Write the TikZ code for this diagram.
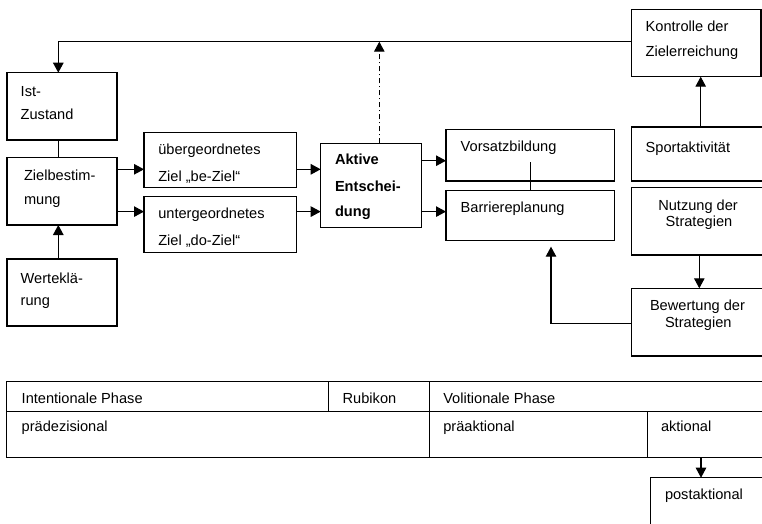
\documentclass[tikz,border=0pt]{standalone}
\usepackage{fontspec}
\setmainfont{Liberation Sans}
\usetikzlibrary{arrows.meta}
\begin{document}
\begin{tikzpicture}[x=1pt,y=-1pt,
  box/.style={draw, line width=1.1pt, inner sep=0pt, outer sep=0pt, anchor=north west},
  txt/.style={inner sep=0pt, outer sep=0pt, anchor=base west, font=\fontsize{14.6}{17}\selectfont},
  btxt/.style={txt, font=\fontsize{14.6}{17}\selectfont\bfseries},
  arr/.style={-{Triangle[length=10pt,width=10.5pt]}, line width=1.1pt},
  plain/.style={line width=1.1pt}]
\clip (0,0) rectangle (762,524);
\fill[white] (0,0) rectangle (762,524);

% boxes of the process model
\node[box, minimum width=110, minimum height=67.3] (ist) at (7,72.7) {};
\node[box, minimum width=110, minimum height=67.7] (ziel) at (7,157.3) {};
\node[box, minimum width=110, minimum height=67] (wert) at (7,259) {};
\node[box, minimum width=152.7, minimum height=55] (ueber) at (144,132.3) {};
\node[box, minimum width=152.7, minimum height=56] (unter) at (144,196.7) {};
\node[box, minimum width=101, minimum height=84] (akt) at (320.7,143.3) {};
\node[box, minimum width=168.3, minimum height=51.7] (vors) at (446,129.3) {};
\node[box, minimum width=168.3, minimum height=50] (barr) at (446,190.7) {};
\node[box, minimum width=129.3, minimum height=67.4] (kon) at (631.7,9.3) {};
\node[box, minimum width=140, minimum height=54] (sport) at (631.7,127) {};
\node[box, minimum width=140, minimum height=67.7] (nutz) at (631.7,187.3) {};
\node[box, minimum width=140, minimum height=67.7] (bew) at (631.7,288.3) {};

% phase table
\node[box, minimum width=321.6, minimum height=30] (intent) at (6.7,381.7) {};
\node[box, minimum width=101, minimum height=30] (rubikon) at (328.3,381.7) {};
\node[box, minimum width=350, minimum height=30] (volit) at (429.3,381.7) {};
\node[box, minimum width=422.6, minimum height=45.6] (praedez) at (6.7,411.7) {};
\node[box, minimum width=218.4, minimum height=45.6] (praeakt) at (429.3,411.7) {};
\node[box, minimum width=130, minimum height=45.6] (aktional) at (647.7,411.7) {};
\node[box, minimum width=130, minimum height=60] (post) at (650.7,477.7) {};

% texts
\node[txt] (t-ist1) at (20.7,97) {Ist-};
\node[txt] (t-ist2) at (20.7,120) {Zustand};
\node[txt] (t-ziel1) at (24,180.5) {Zielbestim-};
\node[txt] (t-ziel2) at (24,204.5) {mung};
\node[txt] (t-wert1) at (20.7,283.3) {Werteklä-};
\node[txt] (t-wert2) at (20.7,305.5) {rung};
\node[txt] (t-ueber1) at (158.3,154) {übergeordnetes};
\node[txt] (t-ueber2) at (158.3,181.5) {Ziel „be-Ziel“};
\node[txt] (t-unter1) at (158.3,218.3) {untergeordnetes};
\node[txt] (t-unter2) at (158.3,245) {Ziel „do-Ziel“};
\node[btxt] (t-akt1) at (335,164) {Aktive};
\node[btxt] (t-akt2) at (335,191.5) {Entschei-};
\node[btxt] (t-akt3) at (335,216) {dung};
\node[txt] (t-vors) at (460.7,151.7) {Vorsatzbildung};
\node[txt] (t-barr) at (460.7,212.3) {Barriereplanung};
\node[txt] (t-kon1) at (645.7,31.3) {Kontrolle der};
\node[txt] (t-kon2) at (645.7,56.7) {Zielerreichung};
\node[txt] (t-sport) at (645.7,152.3) {Sportaktivität};
\node[txt] (t-nutz1) at (658.3,210) {Nutzung der};
\node[txt] (t-nutz2) at (665.7,226.7) {Strategien};
\node[txt] (t-bew1) at (650,310.7) {Bewertung der};
\node[txt] (t-bew2) at (665,327.7) {Strategien};
\node[txt] (t-intent) at (21.7,403.3) {Intentionale Phase};
\node[txt] (t-rubikon) at (342.7,403.3) {Rubikon};
\node[txt] (t-volit) at (443.3,403.3) {Volitionale Phase};
\node[txt] (t-praedez) at (21.7,431.7) {prädezisional};
\node[txt] (t-praeakt) at (443.3,431.7) {präaktional};
\node[txt] (t-aktional) at (661,431.7) {aktional};
\node[txt] (t-post) at (665,499.3) {postaktional};

% helper levels for the connectors
\coordinate (ytop) at (0,41.7);
\coordinate (yA) at (0,169.3);
\coordinate (yB) at (0,211.6);
\coordinate (yC) at (0,160.7);
\coordinate (ybew) at (0,323.3);
\coordinate (xist) at (58.3,0);
\coordinate (xakt) at (379.3,0);
\coordinate (xvb) at (530.7,0);
\coordinate (xbar) at (551,0);
\coordinate (xk) at (700.7,0);
\coordinate (xn) at (699.3,0);
\coordinate (xpost) at (701,0);

% connectors
\draw[arr] (kon.west |- ytop) -| (ist.north -| xist);
\draw[plain] (ist.south -| xist) -- (ziel.north -| xist);
\draw[arr] (wert.north -| xist) -- (ziel.south -| xist);
\draw[arr] (ziel.east |- yA) -- (ueber.west |- yA);
\draw[arr] (ziel.east |- yB) -- (unter.west |- yB);
\draw[arr] (ueber.east |- yA) -- (akt.west |- yA);
\draw[arr] (unter.east |- yB) -- (akt.west |- yB);
\draw[arr, line width=1pt, dash pattern=on 5pt off 3pt on 1pt off 3pt] (akt.north -| xakt) -- (xakt |- ytop);
\draw[arr] (akt.east |- yC) -- (vors.west |- yC);
\draw[arr] (akt.east |- yB) -- (barr.west |- yB);
\draw[plain] (barr.north -| xvb) -- ++(0,-28.7);
\draw[arr] (sport.north -| xk) -- (kon.south -| xk);
\draw[arr] (nutz.south -| xn) -- (bew.north -| xn);
\draw[arr, shorten >=6pt] (bew.west |- ybew) -| (barr.south -| xbar);
\draw[arr] (aktional.south -| xpost) -- (post.north -| xpost);
\end{tikzpicture}
\end{document}
